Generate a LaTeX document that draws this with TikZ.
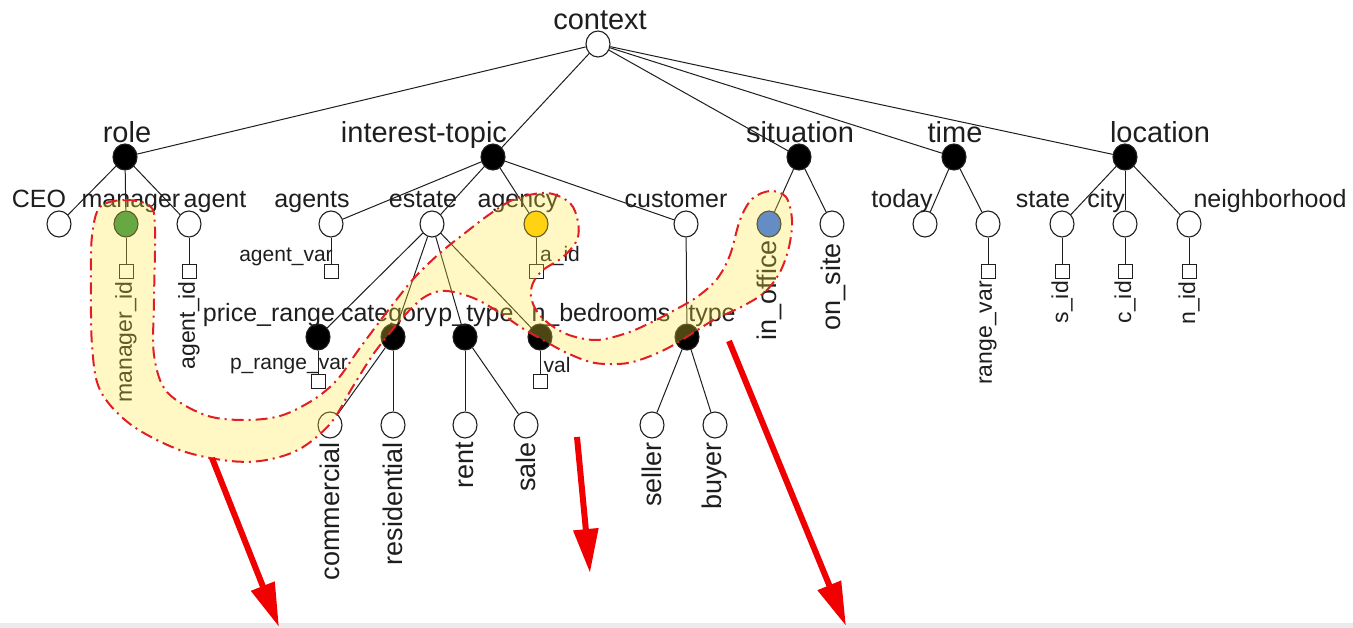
\documentclass[tikz,border=0pt]{standalone}
\usepackage{fontspec}
\setmainfont{Liberation Sans}
\usetikzlibrary{shapes.geometric,arrows.meta}

\definecolor{hlyellow}{RGB}{255,235,60}
\definecolor{hlred}{RGB}{225,30,35}
\definecolor{arrowred}{RGB}{240,0,0}
\definecolor{mgreen}{RGB}{40,140,70}
\definecolor{ayellow}{RGB}{255,200,0}
\definecolor{oblue}{RGB}{35,100,255}
\definecolor{ink}{RGB}{30,30,30}

\begin{document}
\begin{tikzpicture}[x=1pt,y=-1pt,
  every node/.style={inner sep=0pt, text=ink},
  vert/.style={draw=ink, line width=1.1pt, ellipse, minimum width=24pt, minimum height=26pt},
  wnode/.style={vert, fill=white},
  bnode/.style={vert, fill=black},
  varbox/.style={draw=ink, line width=1pt, fill=white, rectangle, minimum width=14pt, minimum height=14pt},
  link/.style={draw=ink, line width=1pt},
  labone/.style={font=\fontsize{29}{29}\selectfont, anchor=base},
  labtwo/.style={font=\fontsize{25}{25}\selectfont, anchor=base},
  leaflab/.style={font=\fontsize{27}{27}\selectfont, rotate=90, anchor=east},
  varlab/.style={font=\fontsize{21}{21}\selectfont, anchor=base},
  varvlab/.style={font=\fontsize{23}{23}\selectfont, rotate=90, anchor=east},
  bigarrow/.style={draw=arrowred, line width=6pt, -{Triangle[length=44pt,width=24pt]}},
  hlband/.style={fill=hlyellow, fill opacity=0.3},
  hlline/.style={draw=hlred, line width=2pt, dash pattern=on 12pt off 5pt on 2pt off 5pt},
]
\useasboundingbox (0,0) rectangle (1353,628);
\fill[white] (0,0) rectangle (1353,628);
\fill[black!8] (0,623) rectangle (1353,628);

% root
\node[wnode] (ctx) at (598,44) {};
\node[labone] at (600,30) {context};

% first level
\node[bnode] (role) at (125,157) {};
\node[bnode] (itopic) at (493,157) {};
\node[bnode] (situation) at (799,157) {};
\node[bnode] (time) at (954,157) {};
\node[bnode] (location) at (1125,157) {};
\node[labone] at (127,143) {role};
\node[labone] at (424,143) {interest-topic};
\node[labone] at (800,143) {situation};
\node[labone] at (955,143) {time};
\node[labone] at (1160,143) {location};

% second level
\node[wnode] (ceo) at (59,224) {};
\node[wnode, fill=mgreen] (manager) at (126,224) {};
\node[wnode] (agent) at (189,224) {};
\node[wnode] (agents) at (331,224) {};
\node[wnode] (estate) at (432,224) {};
\node[wnode, fill=ayellow] (agency) at (536,224) {};
\node[wnode] (customer) at (686,224) {};
\node[wnode, fill=oblue] (inoffice) at (769,224) {};
\node[wnode] (onsite) at (832,224) {};
\node[wnode] (today) at (925,224) {};
\node[wnode] (trange) at (988,224) {};
\node[wnode] (state) at (1062,224) {};
\node[wnode] (city) at (1125,224) {};
\node[wnode] (nbh) at (1189,224) {};
\node[labtwo] at (39,208) {CEO};
\node[labtwo] at (131,208) {manager};
\node[labtwo] at (215,208) {agent};
\node[labtwo] at (312,208) {agents};
\node[labtwo] at (423,208) {estate};
\node[labtwo] at (518,208) {agency};
\node[labtwo] at (676,208) {customer};
\node[labtwo] at (902,208) {today};
\node[labtwo] at (1043,208) {state};
\node[labtwo] at (1106,208) {city};
\node[labtwo] at (1270,208) {neighborhood};

% third level
\node[bnode] (prange) at (318,337) {};
\node[bnode] (category) at (393,337) {};
\node[bnode] (ptype) at (465,337) {};
\node[bnode] (nbed) at (540,337) {};
\node[bnode] (ctype) at (687,337) {};
\node[labtwo] at (269,322) {price\_range};
\node[labtwo] at (389,322) {category};
\node[labtwo] at (476,322) {p\_type};
\node[labtwo] at (601,322) {n\_bedrooms};
\node[labtwo] at (712,322) {type};

% leaves
\node[wnode] (commercial) at (330,425) {};
\node[wnode] (residential) at (393,425) {};
\node[wnode] (rent) at (465,425) {};
\node[wnode] (sale) at (526,425) {};
\node[wnode] (seller) at (652,425) {};
\node[wnode] (buyer) at (715,425) {};

% variable boxes
\node[varbox] (vmanager) at (126,272) {};
\node[varbox] (vagent) at (189,272) {};
\node[varbox] (vagents) at (331,272) {};
\node[varbox] (vagency) at (536,272) {};
\node[varbox] (vtrange) at (988,272) {};
\node[varbox] (vstate) at (1062,272) {};
\node[varbox] (vcity) at (1125,272) {};
\node[varbox] (vnbh) at (1189,272) {};
\node[varbox] (vprange) at (318,382) {};
\node[varbox] (vnbed) at (540,382) {};

% tree edges
\foreach \p/\c in {ctx/role, ctx/itopic, ctx/situation, ctx/time, ctx/location,
  role/ceo, role/manager, role/agent,
  itopic/agents, itopic/estate, itopic/agency, itopic/customer,
  situation/inoffice, situation/onsite, time/today, time/trange,
  location/state, location/city, location/nbh,
  estate/prange, estate/category, estate/ptype, estate/nbed, customer/ctype,
  category/commercial, category/residential, ptype/rent, ptype/sale,
  ctype/seller, ctype/buyer,
  manager/vmanager, agent/vagent, agents/vagents, agency/vagency,
  trange/vtrange, state/vstate, city/vcity, nbh/vnbh,
  prange/vprange, nbed/vnbed}
  \draw[link] (\p) -- (\c);

% variable labels
\node[varlab] at (286,262) {agent\_var};
\node[varlab] at (560,262) {a\_id};
\node[varlab] at (289,370) {p\_range\_var};
\node[varlab] at (557,373) {val};
\node[varvlab] at (126,281) {manager\_id};
\node[varvlab] at (189,281) {agent\_id};
\node[varvlab] at (988,281) {range\_var};
\node[varvlab] at (1062,281) {s\_id};
\node[varvlab] at (1125,281) {c\_id};
\node[varvlab] at (1189,281) {n\_id};

% rotated leaf labels
\node[leaflab] at (769,240) {in\_office};
\node[leaflab] at (833,243) {on\_site};
\node[leaflab] at (330,442) {commercial};
\node[leaflab] at (393,442) {residential};
\node[leaflab] at (465,442) {rent};
\node[leaflab] at (526,442) {sale};
\node[leaflab] at (652,442) {seller};
\node[leaflab] at (715,442) {buyer};

% highlighted path through the tree
\def\hlpath{plot[smooth cycle, tension=0.55] coordinates {
  (100,207) (125,200) (150,206) (155,228) (154,300) (154,355) (167,392)
  (205,415) (243,420) (280,416) (313,400) (337,380) (357,352) (377,325)
  (397,299) (416,276) (440,253) (465,233) (490,214) (515,199) (547,193)
  (570,203) (578,222) (577,240) (563,257) (543,270) (533,283) (531,296)
  (536,310) (548,323) (569,335) (597,340) (627,333) (652,322) (673,311)
  (697,297) (717,279) (730,255) (740,220) (752,199) (770,191) (786,197)
  (792,220) (789,247) (780,272) (765,292) (743,306) (712,321) (685,338)
  (660,352) (628,363) (595,363) (567,353) (543,340) (522,328) (500,313)
  (478,300) (458,293) (440,291) (423,298) (405,315) (389,334) (372,356)
  (352,388) (330,424) (298,450) (260,461) (222,460) (177,449) (130,424)
  (100,390) (92,345) (91,280) (92,236)}}
\fill[hlband] \hlpath;
\draw[hlline] \hlpath;

% red arrows
\coordinate (aone) at (212,458);
\coordinate (aoneend) at (279,627);
\coordinate (atwo) at (577,437);
\coordinate (atwoend) at (590,573);
\coordinate (athree) at (729,341);
\coordinate (athreeend) at (846,626);
\draw[bigarrow] (aone) -- (aoneend);
\draw[bigarrow] (atwo) -- (atwoend);
\draw[bigarrow] (athree) -- (athreeend);
\end{tikzpicture}
\end{document}
